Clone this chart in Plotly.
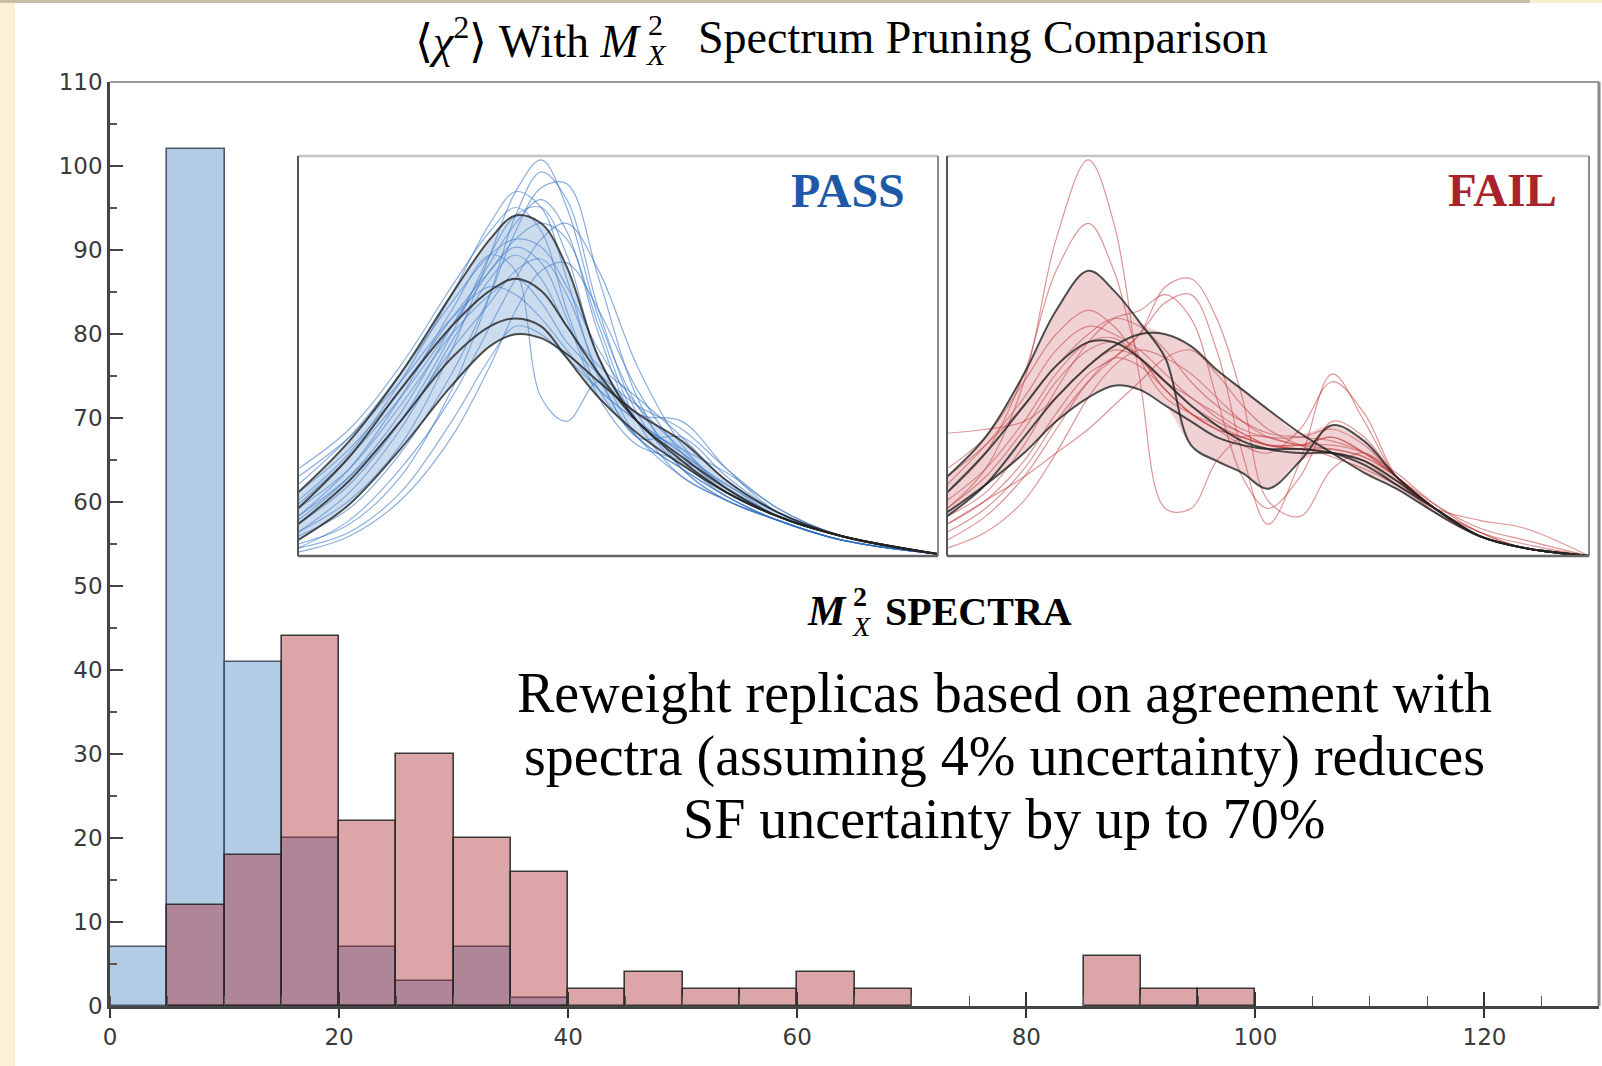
import plotly.graph_objects as go
import numpy as np

# ---------------- histogram data ----------------
BIN_WIDTH = 5
pass_bin_left = [0, 5, 10, 15, 20, 25, 30, 35]
pass_counts = [7, 102, 41, 20, 7, 3, 7, 1]
fail_bin_left = [5, 10, 15, 20, 25, 30, 35, 40, 45, 50, 55, 60, 65, 85, 90, 95]
fail_counts = [12, 18, 44, 22, 30, 20, 16, 2, 4, 2, 2, 4, 2, 6, 2, 2]

x_tick_vals = [0, 20, 40, 60, 80, 100, 120]
y_tick_vals = [0, 10, 20, 30, 40, 50, 60, 70, 80, 90, 100, 110]

# ---------------- inset spectra (normalized 0-100 units) ----------------
pass_x = [0, 8, 16, 24, 30, 34, 38, 42, 47, 53, 60, 67, 75, 85, 100]
pass_black = [
    [16, 29, 46, 66, 80, 86, 84, 73, 50, 34, 25, 17, 10, 5, 0.5],
    [12, 25, 42, 58, 67, 70, 67, 58, 46, 34, 24, 16, 10, 5, 0.5],
    [8, 19, 34, 50, 58, 60, 58, 50, 40, 31, 23, 16, 10, 5, 0.5],
    [4, 13, 27, 43, 53, 56, 55, 51, 44, 36, 29, 19, 11, 5, 0.5],
]
pass_thin = [
    [6, 14, 28, 52, 76, 92, 100, 88, 60, 38, 24, 15, 9, 4, 0.5],
    [3, 8, 20, 42, 66, 86, 97, 90, 62, 36, 22, 14, 9, 4, 0.5],
    [14, 26, 44, 66, 84, 92, 88, 70, 45, 30, 22, 15, 9, 4, 0.5],
    [10, 22, 40, 62, 76, 72, 40, 34, 44, 30, 20, 14, 9, 4, 0.5],
    [18, 30, 46, 64, 76, 80, 78, 68, 52, 38, 27, 17, 10, 5, 0.5],
    [20, 30, 44, 60, 68, 66, 60, 52, 42, 34, 26, 17, 10, 5, 0.5],
    [2, 6, 16, 34, 50, 58, 56, 50, 42, 34, 26, 18, 11, 5, 0.5],
    [5, 12, 26, 46, 66, 82, 93, 94, 70, 40, 22, 14, 9, 4, 0.5],
    [8, 18, 34, 56, 76, 86, 88, 76, 50, 36, 34, 22, 11, 5, 0.5],
    [10, 20, 34, 52, 64, 72, 75, 66, 46, 30, 30, 20, 11, 5, 0.5],
    [1, 5, 14, 30, 48, 62, 72, 74, 62, 42, 26, 16, 10, 5, 0.5],
    [22, 32, 48, 68, 82, 88, 82, 62, 42, 30, 22, 15, 9, 4, 0.5],
    [13, 25, 40, 58, 72, 80, 84, 80, 58, 34, 20, 14, 9, 4, 0.5],
    [6, 16, 32, 54, 70, 76, 70, 58, 48, 40, 30, 19, 11, 5, 0.5],
    [9, 20, 36, 58, 74, 84, 90, 82, 56, 34, 27, 21, 12, 5, 0.5],
    [16, 27, 42, 60, 72, 78, 74, 60, 40, 28, 24, 18, 10, 5, 0.5],
    [2, 9, 22, 40, 58, 70, 80, 84, 72, 48, 28, 17, 10, 5, 0.5],
    [12, 22, 38, 56, 66, 70, 64, 54, 46, 38, 32, 22, 12, 5, 0.5],
]

fail_x = [0, 6, 12, 17, 22, 26, 30, 34, 38, 42, 46, 50, 55, 60, 65, 70, 76, 83, 90, 100]
fail_black = [
    [20, 30, 46, 62, 72, 67, 59, 50, 28, 24, 21, 17, 24, 33, 29, 20, 12, 5, 2, 0],
    [10, 18, 30, 40, 48, 53, 56, 56, 53, 47, 42, 37, 31, 26, 21, 17, 11, 5, 2, 0],
    [16, 26, 38, 48, 54, 54, 50, 44, 38, 33, 29, 27, 26, 26, 24, 19, 12, 5, 2, 0],
    [11, 18, 26, 34, 40, 43, 42, 38, 34, 30, 28, 27, 27, 26, 23, 18, 12, 5, 2, 0],
]
fail_thin = [
    [12, 22, 44, 80, 100, 84, 45, 12, 12, 24, 30, 30, 28, 30, 26, 20, 12, 5, 2, 0],
    [16, 26, 46, 72, 84, 72, 50, 40, 36, 33, 30, 28, 28, 30, 26, 20, 12, 5, 2, 0],
    [8, 14, 24, 36, 46, 50, 56, 68, 70, 60, 40, 14, 10, 22, 26, 20, 12, 5, 2, 0],
    [6, 12, 22, 34, 44, 50, 56, 64, 66, 52, 26, 8, 24, 46, 34, 20, 12, 6, 2, 0],
    [22, 30, 44, 56, 62, 58, 50, 44, 40, 35, 31, 28, 27, 27, 25, 20, 12, 5, 2, 0],
    [18, 28, 40, 52, 58, 56, 52, 46, 40, 36, 32, 30, 30, 32, 28, 20, 12, 5, 2, 0],
    [14, 22, 34, 46, 54, 55, 50, 42, 36, 32, 28, 26, 32, 44, 36, 20, 11, 5, 2, 0],
    [4, 10, 20, 32, 44, 50, 48, 42, 36, 32, 30, 28, 28, 28, 26, 21, 13, 6, 2, 0],
    [31, 32, 34, 40, 48, 52, 50, 44, 38, 34, 31, 28, 27, 26, 24, 19, 12, 5, 2, 0],
    [8, 14, 20, 26, 32, 38, 44, 50, 52, 46, 38, 32, 28, 25, 22, 18, 12, 5, 2, 0],
    [12, 20, 32, 44, 52, 54, 50, 42, 36, 32, 30, 28, 27, 26, 24, 18, 12, 9, 7, 0],
    [2, 6, 14, 26, 40, 48, 52, 50, 46, 40, 34, 30, 28, 27, 25, 20, 13, 7, 4, 0],
    [10, 16, 28, 42, 54, 60, 62, 66, 60, 40, 20, 12, 20, 34, 30, 20, 12, 5, 2, 0],
    [20, 28, 38, 48, 56, 60, 58, 52, 44, 38, 34, 31, 30, 29, 26, 20, 12, 6, 3, 0],
]

# ---------------- layout helpers (pixel -> paper) ----------------
W, H = 1602, 1066
L, R, T, B = 110, 1599, 82, 1006


def px(v):
    return (v - L) / (R - L)


def py(v):
    return (B - v) / (B - T)


SERIF = "Liberation Serif, Times New Roman, serif"
SANS = "DejaVu Sans, sans-serif"

fig = go.Figure()

# histogram bars
fig.add_trace(go.Bar(
    x=[b + BIN_WIDTH / 2 for b in pass_bin_left], y=pass_counts, width=BIN_WIDTH,
    marker=dict(color="rgb(179,204,230)", line=dict(color="rgba(60,72,92,0.9)", width=1.6)),
    showlegend=False, hoverinfo="skip"))
fig.add_trace(go.Bar(
    x=[b + BIN_WIDTH / 2 for b in fail_bin_left], y=fail_counts, width=BIN_WIDTH,
    marker=dict(color="rgba(167,30,35,0.4)", line=dict(color="rgba(40,40,40,0.9)", width=1.6)),
    showlegend=False, hoverinfo="skip"))

# invisible trace for the overlay tick axis
fig.add_trace(go.Scatter(x=[0], y=[0], xaxis="x4", yaxis="y", mode="markers",
                         marker=dict(opacity=0), showlegend=False, hoverinfo="skip"))


def add_inset(xs, thin, black, xa, ya, thin_color, band_color):
    for c in thin:
        fig.add_trace(go.Scatter(x=xs, y=c, xaxis=xa, yaxis=ya, mode="lines",
                                 line=dict(color=thin_color, width=1.2, shape="spline", smoothing=1.0),
                                 showlegend=False, hoverinfo="skip"))
    arr = np.array(black, dtype=float)
    lower = arr.min(axis=0)
    upper = arr.max(axis=0)
    fig.add_trace(go.Scatter(x=xs, y=lower, xaxis=xa, yaxis=ya, mode="lines",
                             line=dict(width=0, shape="spline", smoothing=1.0),
                             showlegend=False, hoverinfo="skip"))
    fig.add_trace(go.Scatter(x=xs, y=upper, xaxis=xa, yaxis=ya, mode="lines",
                             line=dict(width=0, shape="spline", smoothing=1.0),
                             fill="tonexty", fillcolor=band_color,
                             showlegend=False, hoverinfo="skip"))
    for c in black:
        fig.add_trace(go.Scatter(x=xs, y=c, xaxis=xa, yaxis=ya, mode="lines",
                                 line=dict(color="rgba(35,35,35,0.8)", width=2, shape="spline", smoothing=1.0),
                                 showlegend=False, hoverinfo="skip"))


add_inset(pass_x, pass_thin, pass_black, "x2", "y2", "rgba(45,110,195,0.55)", "rgba(110,155,210,0.35)")
add_inset(fail_x, fail_thin, fail_black, "x3", "y3", "rgba(190,45,45,0.5)", "rgba(200,95,100,0.28)")

pass_dom_x = [px(298), px(938)]
fail_dom_x = [px(947), px(1589)]
inset_dom_y = [py(556), py(156)]

inset_axis = dict(showgrid=False, zeroline=False, showticklabels=False, ticks="", showline=False)

fig.update_layout(
    width=W, height=H,
    margin=dict(l=L, r=W - R, t=T, b=H - B),
    paper_bgcolor="white", plot_bgcolor="white",
    barmode="overlay", bargap=0,
    xaxis=dict(range=[0, 130], tickvals=x_tick_vals, ticks="outside", ticklen=9, tickwidth=1.5,
               tickcolor="#333", showline=True, linecolor="#444", linewidth=2.5,
               showgrid=False, zeroline=False,
               tickfont=dict(family=SANS, size=23, color="#3a3a3a"),
               minor=dict(dtick=5, tick0=0, ticks="inside", ticklen=10, tickwidth=1.2, tickcolor="#555")),
    xaxis4=dict(range=[0, 130], overlaying="x", anchor="y", tickvals=x_tick_vals, ticks="inside",
                ticklen=14, tickwidth=1.5, tickcolor="#333", showticklabels=False,
                showline=False, showgrid=False, zeroline=False),
    yaxis=dict(range=[0, 110], tickvals=y_tick_vals, ticks="inside", ticklen=13, tickwidth=2,
               tickcolor="#444", showline=True, linecolor="#444", linewidth=2.5,
               showgrid=False, zeroline=False,
               tickfont=dict(family=SANS, size=23, color="#3a3a3a"),
               minor=dict(dtick=5, tick0=0, ticks="inside", ticklen=7, tickwidth=1.5, tickcolor="#555")),
    xaxis2=dict(domain=pass_dom_x, range=[0, 100], anchor="y2", **inset_axis),
    yaxis2=dict(domain=inset_dom_y, range=[0, 101], anchor="x2", **inset_axis),
    xaxis3=dict(domain=fail_dom_x, range=[0, 100], anchor="y3", **inset_axis),
    yaxis3=dict(domain=inset_dom_y, range=[0, 101], anchor="x3", **inset_axis),
)

shapes = []
# page decorations: cream left strip and thin top strip
shapes.append(dict(type="rect", xref="paper", yref="paper", x0=px(0), x1=px(15), y0=py(H), y1=py(0),
                   fillcolor="#fbf1d6", line=dict(width=0), layer="below"))
shapes.append(dict(type="rect", xref="paper", yref="paper", x0=px(0), x1=px(1530), y0=py(3), y1=py(0),
                   fillcolor="#c9bfa6", line=dict(width=0), layer="below"))
shapes.append(dict(type="rect", xref="paper", yref="paper", x0=px(1530), x1=px(W), y0=py(3), y1=py(0),
                   fillcolor="#f8edcf", line=dict(width=0), layer="below"))
# main frame top and right
shapes.append(dict(type="line", xref="paper", yref="paper", x0=0, x1=1, y0=1, y1=1,
                   line=dict(color="#9a9a9a", width=2)))
shapes.append(dict(type="line", xref="paper", yref="paper", x0=1, x1=1, y0=0, y1=1,
                   line=dict(color="#8a8a8a", width=3)))
# inset frames
for xa, ya in (("x2", "y2"), ("x3", "y3")):
    xr, yr = xa + " domain", ya + " domain"
    shapes.append(dict(type="line", xref=xr, yref=yr, x0=0, x1=1, y0=1, y1=1, line=dict(color="#c4c4c4", width=2.5)))
    shapes.append(dict(type="line", xref=xr, yref=yr, x0=1, x1=1, y0=0, y1=1, line=dict(color="#8c8c8c", width=2)))
    shapes.append(dict(type="line", xref=xr, yref=yr, x0=0, x1=0, y0=0, y1=1, line=dict(color="#555", width=2)))
    shapes.append(dict(type="line", xref=xr, yref=yr, x0=0, x1=1, y0=0, y1=0, line=dict(color="#666", width=2.5)))
fig.update_layout(shapes=shapes)

ann = []


def A(text, x, y, size, xanchor="center", color="black", family=SERIF):
    ann.append(dict(text=text, x=px(x), y=py(y), xref="paper", yref="paper", showarrow=False,
                    xanchor=xanchor, yanchor="middle", font=dict(family=family, size=size, color=color)))


# title
A("⟨<i>χ</i><sup>2</sup>⟩ With <i>M</i>", 643, 38, 46, xanchor="right")
A("2", 646, 25, 30, xanchor="left")
A("<i>X</i>", 644, 55, 30, xanchor="left")
A("Spectrum Pruning Comparison", 696, 38, 46, xanchor="left")

# inset labels
A("<b>PASS</b>", 848, 190, 48, color="#1c5aa8")
A("<b>FAIL</b>", 1502, 190, 47, color="#a8232a")

# M_X^2 SPECTRA
A("<b><i>M</i></b>", 849, 611, 42, xanchor="right")
A("<b>2</b>", 851, 597, 28, xanchor="left")
A("<i>X</i>", 850, 626, 28, xanchor="left")
A("<b>SPECTRA</b>", 883, 611, 40, xanchor="left")

# body text
A("Reweight replicas based on agreement with", 1004, 693, 56)
A("spectra (assuming 4% uncertainty) reduces", 1004, 756, 56)
A("SF uncertainty by up to 70%", 1004, 819, 56)

fig.update_layout(annotations=ann)

fig.write_html("out.html")
